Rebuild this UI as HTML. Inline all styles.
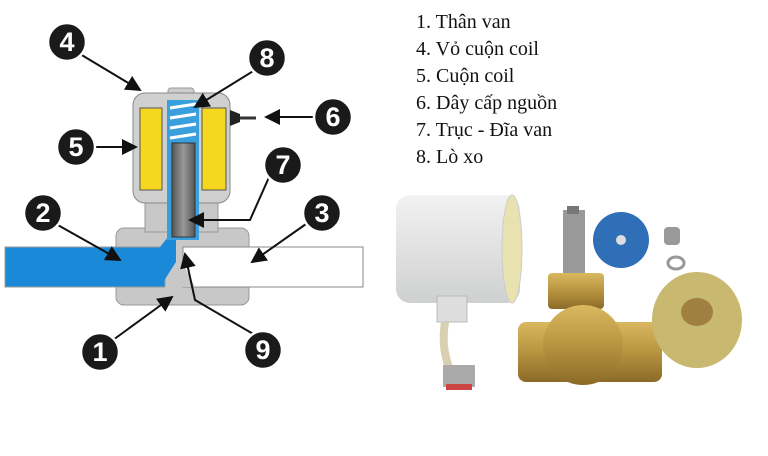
<!DOCTYPE html>
<html><head><meta charset="utf-8"><style>
html,body{margin:0;padding:0;background:#fff;}
svg{display:block}
text.n{font-family:"Liberation Sans",sans-serif;font-weight:bold;font-size:27px;fill:#fff;text-anchor:middle}
text.t{font-family:"Liberation Serif",serif;font-size:20px;fill:#111}
</style></head><body>
<svg width="768" height="456" viewBox="0 0 768 456" xmlns="http://www.w3.org/2000/svg">
<defs>
<marker id="a" markerWidth="8" markerHeight="8" refX="7" refY="4" orient="auto"><path d="M0,0 L8,4 L0,8 z" fill="#111"/></marker>
<linearGradient id="pl" x1="0" x2="1"><stop offset="0" stop-color="#555"/><stop offset=".5" stop-color="#999"/><stop offset="1" stop-color="#555"/></linearGradient>
<linearGradient id="cyl" x1="0" y1="0" x2="0" y2="1"><stop offset="0" stop-color="#f2f2f2"/><stop offset="1" stop-color="#cfd0d0"/></linearGradient>
<linearGradient id="br" x1="0" y1="0" x2="0" y2="1"><stop offset="0" stop-color="#d9b860"/><stop offset=".5" stop-color="#b89440"/><stop offset="1" stop-color="#8a6a28"/></linearGradient>
</defs>
<rect x="116" y="228" width="133" height="77" rx="8" fill="#c8c8c8" stroke="#999"/>
<rect x="145" y="200" width="73" height="32" fill="#c8c8c8" stroke="#999"/>
<rect x="5" y="247" width="160" height="40" fill="#1a8ad8" stroke="#999"/>
<path d="M160,247 L172,232 L176,232 L176,262 L160,287 Z" fill="#1a8ad8"/>
<rect x="183" y="247" width="180" height="40" fill="#fff" stroke="#888"/>
<path d="M165,287 L176,262 L182,262 L195,287 Z" fill="#c8c8c8"/>
<rect x="168" y="88" width="26" height="8" rx="3" fill="#ccc" stroke="#999"/>
<rect x="133" y="93" width="97" height="110" rx="12" fill="#d0d0d0" stroke="#888"/>
<rect x="140" y="108" width="22" height="82" fill="#f5d81e" stroke="#555"/>
<rect x="202" y="108" width="24" height="82" fill="#f5d81e" stroke="#555"/>
<path d="M230,110 l10,4 v8 l-10,4 z" fill="#222"/>
<line x1="240" y1="118" x2="256" y2="118" stroke="#333" stroke-width="3"/>
<rect x="167" y="100" width="32" height="140" fill="#3aa0dd"/>
<g stroke="#fff" stroke-width="3"><line x1="170" y1="108" x2="196" y2="104"/><line x1="170" y1="118" x2="196" y2="114"/><line x1="170" y1="128" x2="196" y2="124"/><line x1="170" y1="138" x2="196" y2="134"/></g>
<rect x="172" y="143" width="23" height="94" fill="url(#pl)" stroke="#333"/>
<g stroke="#111" stroke-width="2" fill="none" marker-end="url(#a)">
<line x1="80" y1="54" x2="140" y2="90"/>
<line x1="255" y1="70" x2="195" y2="107"/>
<line x1="314" y1="117" x2="266" y2="117"/>
<line x1="94" y1="147" x2="136" y2="147"/>
<path d="M270,175 L250,220 L190,220"/>
<line x1="56" y1="224" x2="120" y2="260"/>
<line x1="306" y1="224" x2="252" y2="262"/>
<line x1="113" y1="340" x2="172" y2="297"/>
<path d="M255,335 L195,300 L185,254"/>
</g>
<g fill="#1a1a1a" stroke="#fff" stroke-width="2.5">
<circle cx="67" cy="42" r="19"/><circle cx="267" cy="58" r="19"/><circle cx="333" cy="117" r="19"/>
<circle cx="76" cy="147" r="19"/><circle cx="283" cy="165" r="19"/><circle cx="43" cy="213" r="19"/>
<circle cx="322" cy="213" r="19"/><circle cx="100" cy="352" r="19"/><circle cx="263" cy="350" r="19"/>
</g>
<text class="n" x="67" y="51">4</text><text class="n" x="267" y="67">8</text><text class="n" x="333" y="126">6</text>
<text class="n" x="76" y="156">5</text><text class="n" x="283" y="174">7</text><text class="n" x="43" y="222">2</text>
<text class="n" x="322" y="222">3</text><text class="n" x="100" y="361">1</text><text class="n" x="263" y="359">9</text>
<text class="t" x="416" y="28">1. Thân van</text>
<text class="t" x="416" y="55">4. Vỏ cuộn coil</text>
<text class="t" x="416" y="82">5. Cuộn coil</text>
<text class="t" x="416" y="109">6. Dây cấp nguồn</text>
<text class="t" x="416" y="136">7. Trục - Đĩa van</text>
<text class="t" x="416" y="163">8. Lò xo</text>
<rect x="396" y="195" width="124" height="108" rx="14" fill="url(#cyl)"/>
<ellipse cx="512" cy="249" rx="10" ry="54" fill="#e8e2b0" stroke="#ccc"/>
<rect x="437" y="296" width="30" height="26" fill="#ddd" stroke="#bbb"/>
<path d="M445,322 q-4,25 4,45" stroke="#d8d0b0" stroke-width="8" fill="none"/>
<rect x="443" y="365" width="32" height="22" fill="#aaa"/>
<rect x="446" y="384" width="26" height="6" fill="#c44"/>
<rect x="563" y="210" width="22" height="75" fill="#999"/>
<rect x="567" y="206" width="12" height="8" fill="#777"/>
<rect x="548" y="273" width="56" height="36" rx="4" fill="url(#br)"/>
<rect x="518" y="322" width="144" height="60" rx="8" fill="url(#br)"/>
<ellipse cx="583" cy="345" rx="40" ry="40" fill="url(#br)"/>
<ellipse cx="621" cy="240" rx="28" ry="28" fill="#2f6fb8"/>
<circle cx="621" cy="240" r="5" fill="#ddd"/>
<rect x="664" y="227" width="16" height="18" rx="4" fill="#999"/>
<ellipse cx="676" cy="263" rx="8" ry="6" fill="none" stroke="#999" stroke-width="3"/>
<ellipse cx="697" cy="320" rx="45" ry="48" fill="#c8b870"/>
<ellipse cx="697" cy="312" rx="16" ry="14" fill="#a08040"/>
</svg>
</body></html>
